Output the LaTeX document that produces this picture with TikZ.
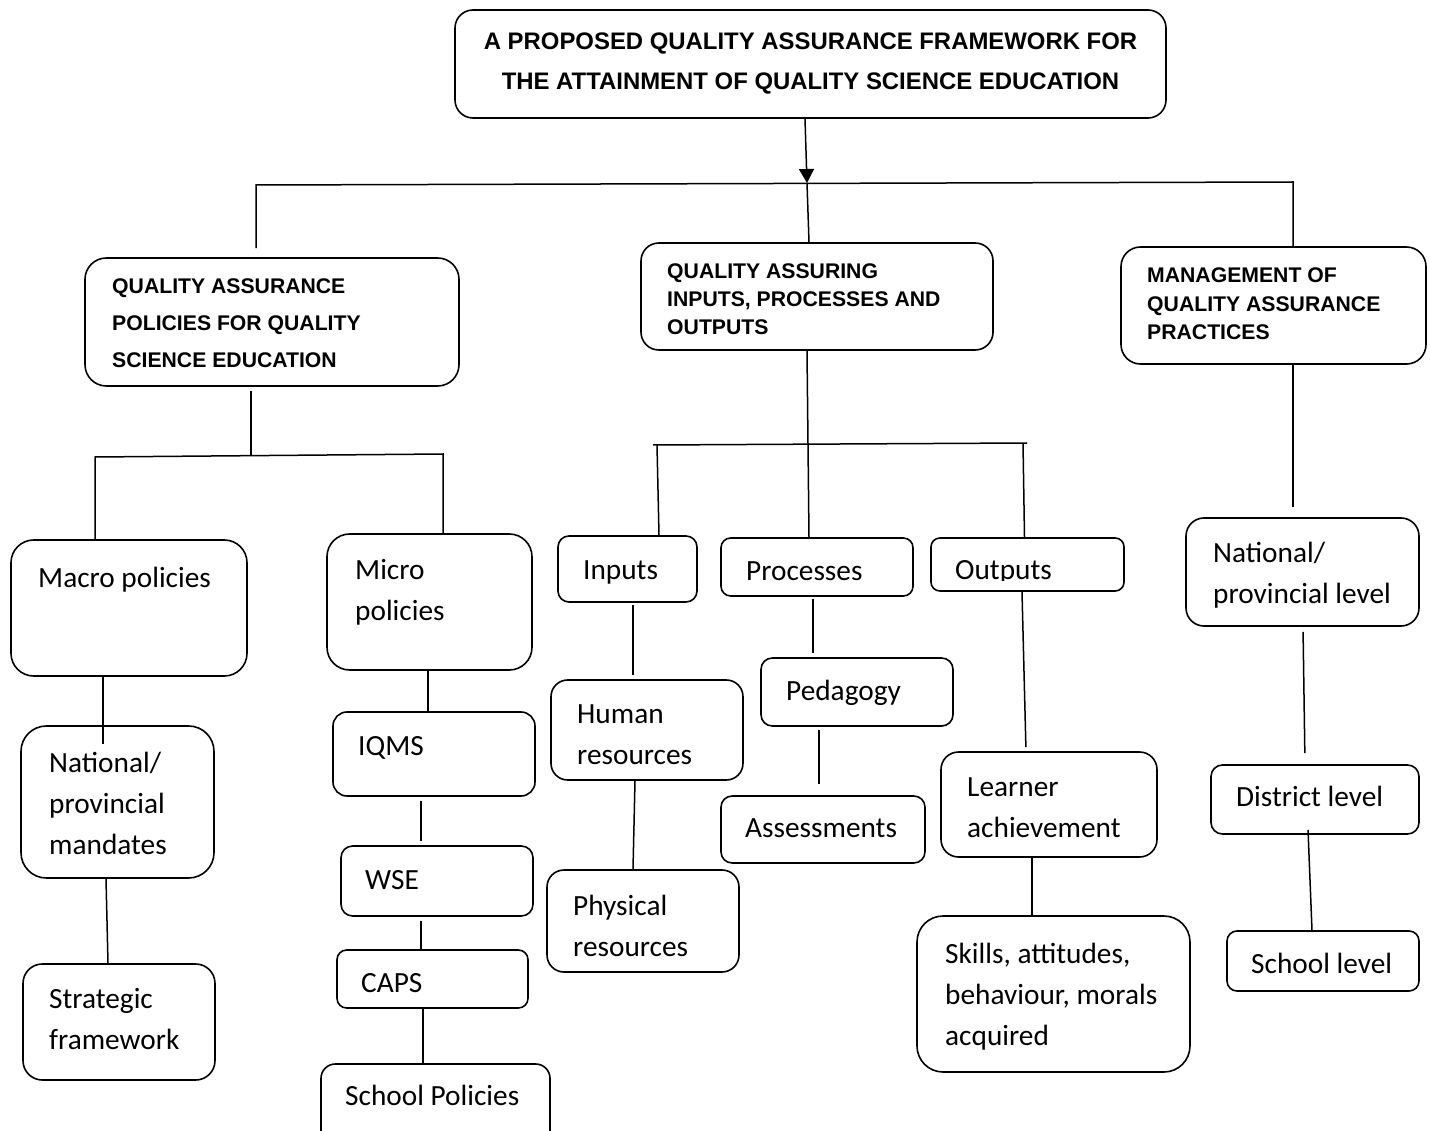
\documentclass[tikz,border=0pt]{standalone}
\usepackage{fontspec}
\setmainfont{Carlito}
\newfontfamily\hdfont{Liberation Sans}
\usetikzlibrary{arrows.meta}
\newcommand\bxx[5]{%
  \pgfmathsetmacro\rr{min(#4-#2,#5-#3)/6}%
  \node[bx, minimum width={(#4-#2)*1pt}, minimum height={(#5-#3)*1pt}, rounded corners=\rr pt] (#1) at ({(#2+#4)/2},{(#3+#5)/2}) {};}
\newcommand\txl[5][body]{%
  \node[#1, anchor=base west] (#2) at (#3,#4) {\begin{tabular}[t]{@{}l@{}}#5\end{tabular}};}
\begin{document}
\begin{tikzpicture}[x=1pt,y=-1pt,
  bx/.style={draw, line width=1.6pt, inner sep=0pt},
  body/.style={inner sep=0pt, font=\fontsize{29.3}{41.3}\selectfont},
  hdra/.style={inner sep=0pt, font=\hdfont\bfseries\fontsize{21.2}{36.8}\selectfont},
  hdrb/.style={inner sep=0pt, font=\hdfont\bfseries\fontsize{21.2}{28}\selectfont},
  hdrc/.style={inner sep=0pt, font=\hdfont\bfseries\fontsize{21.2}{28.5}\selectfont},
  ttl/.style={inner sep=0pt, font=\hdfont\bfseries\fontsize{23.9}{40}\selectfont},
  con/.style={line width=1.5pt}]
\useasboundingbox (0,0) rectangle (1430,1131);
\fill[white] (0,0) rectangle (1430,1131);

% ---------- boxes ----------
\bxx{top}{455}{10}{1166}{118}
\bxx{qap}{85}{258}{459}{386}
\bxx{qai}{641}{243}{993}{350}
\bxx{mgmt}{1121}{247}{1426}{364}
\bxx{macro}{11}{540}{247}{676}
\bxx{micro}{327}{534}{532}{670}
\bxx{nat1}{21}{726}{214}{878}
\bxx{strat}{23}{964}{215}{1080}
\bxx{iqms}{333}{712}{535}{796}
\bxx{wse}{341}{846}{533}{916}
\bxx{caps}{337}{950}{528}{1008}
\bxx{schp}{321}{1064}{550}{1150}
\bxx{inp}{558}{536}{697}{602}
\bxx{proc}{721}{538}{913}{596}
\bxx{outs}{931}{538}{1124}{591}
\bxx{hum}{551}{680}{743}{780}
\bxx{phys}{547}{870}{739}{972}
\bxx{ped}{761}{658}{953}{726}
\bxx{ass}{721}{796}{925}{863}
\bxx{lrn}{941}{752}{1157}{857}
\bxx{skl}{917}{916}{1190}{1072}
\bxx{nat2}{1186}{518}{1419}{626}
\bxx{dist}{1211}{765}{1419}{834}
\bxx{schl}{1227}{931}{1419}{991}

% ---------- texts ----------
\node[ttl, anchor=base] (t-top) at (810.5,49.5) {\begin{tabular}[t]{@{}c@{}}A PROPOSED QUALITY ASSURANCE FRAMEWORK FOR\\THE ATTAINMENT OF QUALITY SCIENCE EDUCATION\end{tabular}};
\txl[hdra]{t-qap}{112}{294}{QUALITY ASSURANCE\\POLICIES FOR QUALITY\\SCIENCE EDUCATION}
\begin{scope}
  \clip ([yshift=14]qai.south west) rectangle (qai.north east);
  \txl[hdrb]{t-qai}{667}{279}{QUALITY ASSURING\\INPUTS, PROCESSES AND\\OUTPUTS}
\end{scope}
\txl[hdrc]{t-mgmt}{1147}{283}{MANAGEMENT OF\\QUALITY ASSURANCE\\PRACTICES}
\txl{t-macro}{38}{587}{Macro policies}
\txl{t-micro}{355}{579}{Micro\\policies}
\txl{t-nat1}{49}{772}{National/\\provincial\\mandates}
\txl{t-strat}{49}{1008}{Strategic\\framework}
\txl{t-iqms}{358}{755}{IQMS}
\txl{t-wse}{365}{889}{WSE}
\txl{t-caps}{361}{992}{CAPS}
\txl{t-schp}{345}{1105}{School Policies}
\txl{t-inp}{583}{579}{Inputs}
\txl{t-proc}{746}{580}{Processes}
\begin{scope}
  \clip ([yshift=11]outs.south west) rectangle (outs.north east);
  \txl{t-outs}{955}{579}{Outputs}
\end{scope}
\txl{t-hum}{577}{723}{Human\\resources}
\txl{t-phys}{573}{915}{Physical\\resources}
\txl{t-ped}{786}{700}{Pedagogy}
\txl{t-ass}{745}{837}{Assessments}
\txl{t-lrn}{967}{796}{Learner\\achievement}
\txl{t-skl}{945}{963}{Skills, attitudes,\\behaviour, morals\\acquired}
\txl{t-nat2}{1213}{562}{National/\\provincial level}
\txl{t-dist}{1236}{806}{District level}
\txl{t-schl}{1251}{973}{School level}

% ---------- connectors ----------
\coordinate (barL) at (256,185);
\coordinate (barM) at (807,183);
\coordinate (barR) at (1293,182);
\draw[con, -{Triangle[width=15pt,length=14pt]}] ([xshift=-5.5]top.south) -- (barM);
\draw[con] ([xshift=-16,yshift=9]qap.north) -- (barL) -- (barR) -- ([xshift=19.5]mgmt.north);
\draw[con] (barM) -- ([xshift=-8]qai.north);

\coordinate (b1M) at (251,456);
\coordinate (b1L) at (95,457);
\coordinate (b1R) at (443,454);
\draw[con] ([xshift=-21,yshift=-4]qap.south) -- (b1M);
\draw[con] ([xshift=-34]macro.north) -- (b1L) -- (b1R) -- ([xshift=13.5]micro.north);

\coordinate (b2L) at (653,445);
\coordinate (b2a) at (657,445);
\coordinate (b2R) at (1027,443);
\coordinate (b2c) at (1023,443);
\draw[con] (b2L) -- (b2R);
\draw[con] ([xshift=-10]qai.south) -- ([xshift=-8]proc.north);
\draw[con] (b2a) -- ([xshift=31.5]inp.north);
\draw[con] (b2c) -- ([xshift=-3]outs.north);

\draw[con] ([xshift=-26]macro.south) -- ([xshift=-14.5,yshift=-19]nat1.north);
\draw[con] ([xshift=-11.5]nat1.south) -- ([xshift=-11]strat.north);
\draw[con] ([xshift=-1.5]micro.south) -- ([xshift=-6]iqms.north);
\draw[con, shorten <=4pt, shorten >=4pt] ([xshift=-13]iqms.south) -- ([xshift=-16]wse.north);
\draw[con, shorten <=4pt] ([xshift=-16]wse.south) -- ([xshift=-11.5]caps.north);
\draw[con] ([xshift=-9.5]caps.south) -- ([xshift=-12.5]schp.north);

\draw[con, shorten <=2pt, shorten >=4pt] ([xshift=5.5]inp.south) -- ([xshift=-14]hum.north);
\draw[con] ([xshift=-12]hum.south) -- ([xshift=-10]phys.north);
\draw[con, shorten <=2pt, shorten >=4pt] ([xshift=-4]proc.south) -- ([xshift=-44]ped.north);
\draw[con, shorten <=3pt, shorten >=11pt] ([xshift=-38]ped.south) -- ([xshift=-4]ass.north);
\draw[con, shorten >=4pt] ([xshift=-5.5]outs.south) -- ([xshift=-23]lrn.north);
\draw[con] ([xshift=-17]lrn.south) -- ([xshift=-21.5]skl.north);

\draw[con, shorten >=10pt] ([xshift=19.5]mgmt.south) -- ([xshift=-9.5]nat2.north);
\draw[con, shorten <=5pt, shorten >=11pt] ([xshift=0.5]nat2.south) -- ([xshift=-10]dist.north);
\draw[con] ([xshift=-7,yshift=5]dist.south) -- ([xshift=-11]schl.north);
\end{tikzpicture}
\end{document}
